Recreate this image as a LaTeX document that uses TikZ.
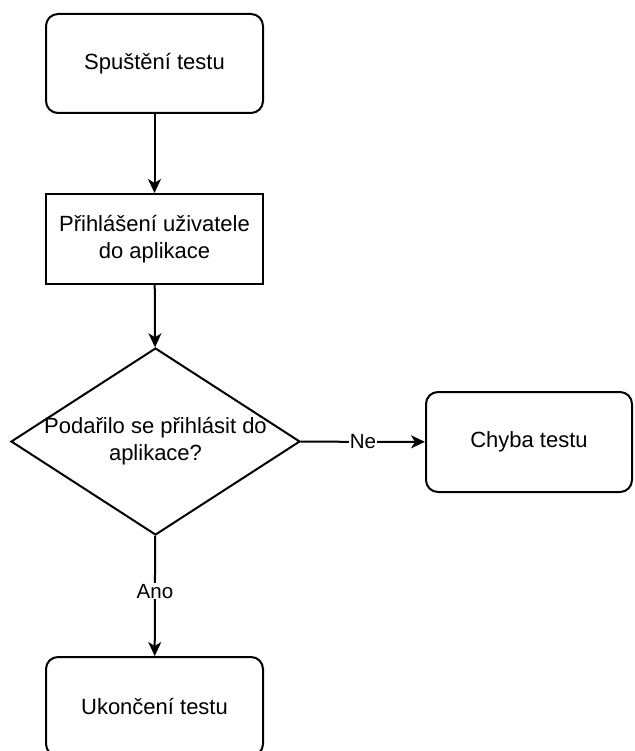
\documentclass[tikz,border=0pt]{standalone}
\usepackage{fontspec}
\setmainfont{Liberation Sans}
\usetikzlibrary{shapes.geometric,arrows.meta}

\begin{document}
\begin{tikzpicture}[x=1pt, y=-1pt,
    every node/.style={font=\fontsize{22}{27}\selectfont},
    roundbox/.style={draw, line width=2pt, rounded corners=12pt, align=center},
    plainbox/.style={draw, line width=2pt, align=center},
    decision/.style={draw, shape=diamond, line width=2pt, inner sep=0pt, minimum width=289pt, minimum height=187pt},
    flow/.style={line width=2pt, -{Stealth[length=14pt, width=13pt, inset=4pt]}},
    answer/.style={fill=white, inner sep=1pt, font=\fontsize{20.5}{24}\selectfont}]
    \useasboundingbox (0,0) rectangle (634,751);
    \node[roundbox, minimum width=217pt, minimum height=99pt] (start) at (154.5,63.5) {Spuštění testu};
    \node[plainbox, minimum width=217pt, minimum height=90pt] (login) at (154.5,239) {Přihlášení uživatele\\do aplikace};
    \node[decision] (check) at (155.5,441.5) {};
    \node[align=center] (checktext) at (check.center) {Podařilo se přihlásit do\\aplikace?};
    \node[roundbox, minimum width=206pt, minimum height=100pt] (error) at (529,442) {Chyba testu};
    \node[roundbox, minimum width=217pt, minimum height=99pt] (finish) at (154.5,706.5) {Ukončení testu};
    \draw[flow] (start) -- (login);
    \draw[flow] (login) -- (check);
    \draw[flow] (check) -- node[answer] (no) {Ne} (error);
    \draw[flow] (check) -- node[answer, pos=0.46] (yes) {Ano} (finish);
\end{tikzpicture}
\end{document}
